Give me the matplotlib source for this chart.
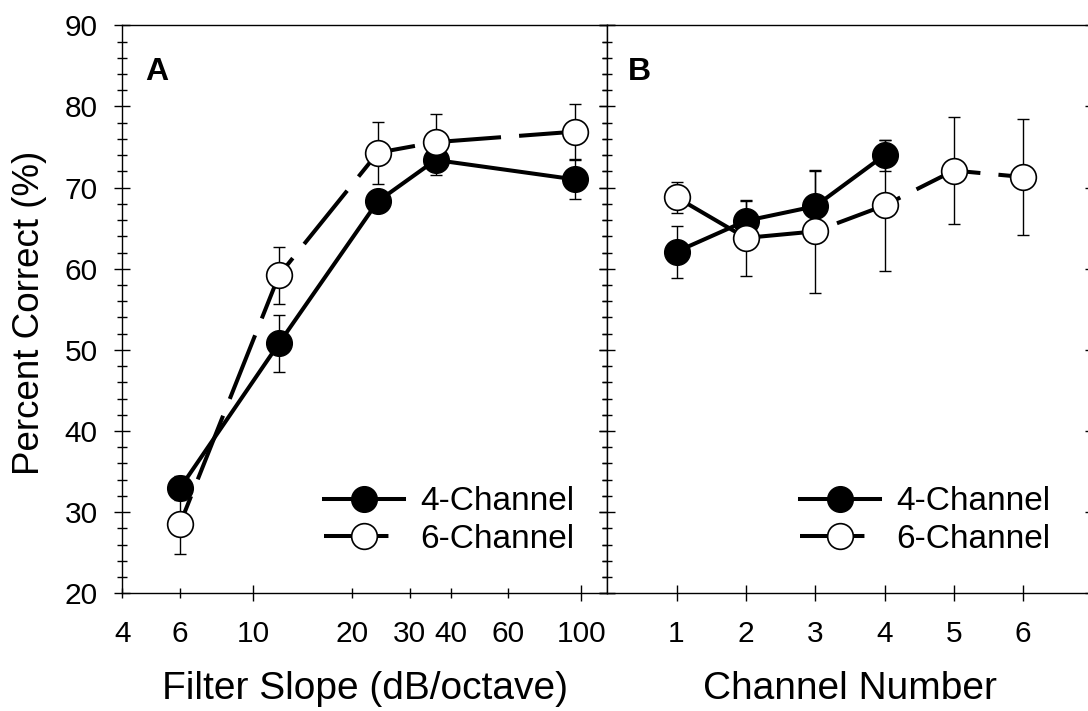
import matplotlib
matplotlib.use("Agg")
import matplotlib.pyplot as plt
from matplotlib.lines import Line2D
from matplotlib.ticker import FixedLocator, FixedFormatter, MultipleLocator

plt.rcParams['font.family'] = ['Liberation Sans', 'DejaVu Sans']

# panel A: filter slope
slope = [6, 12, 24, 36, 96]
a4_mean = [33.0, 50.8, 68.3, 73.4, 71.0]
a4_se = [1.5, 3.5, 1.2, 1.8, 2.4]
a6_mean = [28.6, 59.2, 74.3, 75.6, 76.9]
a6_se = [3.8, 3.5, 3.8, 3.5, 3.4]

# panel B: channel number
chan4 = [1, 2, 3, 4]
b4_mean = [62.1, 65.9, 67.7, 74.0]
b4_se = [3.2, 2.5, 4.4, 1.9]
chan6 = [1, 2, 3, 4, 5, 6]
b6_mean = [68.8, 63.8, 64.6, 67.8, 72.1, 71.3]
b6_se = [1.9, 4.7, 7.6, 8.1, 6.6, 7.2]

labels = ['4-Channel', '6-Channel']

LW = 2.9
MS = 18.5
TICKFS = 21.5
DASH_A = (9.7, (17, 4.5))
DASH_B = (0, (17, 4.5))


def draw_series(ax, x, y, err, filled, dash):
    ax.errorbar(x, y, yerr=err, fmt='none', ecolor='black', elinewidth=1.0,
                capsize=4.5, capthick=1.0, zorder=1)
    ax.plot(x, y, color='black', lw=LW,
            linestyle='-' if filled else dash, zorder=2 if filled else 2.5)
    ax.plot(x, y, linestyle='none', marker='o', ms=MS,
            mfc='black' if filled else 'white', mec='black',
            mew=1.0 if filled else 1.2, zorder=3 if filled else 4)


def style_axes(ax):
    ax.set_ylim(20, 90)
    ax.yaxis.set_major_locator(MultipleLocator(10))
    ax.yaxis.set_minor_locator(MultipleLocator(2))
    ax.tick_params(axis='y', which='both', direction='inout',
                   left=True, right=True, width=1.0, labelsize=TICKFS, pad=12)
    ax.tick_params(axis='y', which='major', length=11.5)
    ax.tick_params(axis='y', which='minor', length=7.5)
    ax.tick_params(axis='x', which='both', direction='inout', top=False,
                   width=1.0, labelsize=TICKFS)
    for sp in ax.spines.values():
        sp.set_linewidth(1.0)


def add_legend(ax, x, y, dash):
    h = [Line2D([], [], color='black', lw=LW, marker='o', ms=MS,
                mfc='black', mec='black', mew=1.0),
         Line2D([], [], color='black', lw=LW, linestyle=(1, dash[1]),
                marker='o', ms=MS, mfc='white', mec='black', mew=1.2)]
    ax.legend(h, labels, loc='center left', bbox_to_anchor=(x, y),
              frameon=False, fontsize=24, handlelength=2.4,
              handletextpad=0.5, labelspacing=0.2, borderpad=0,
              borderaxespad=0, numpoints=1)


fig = plt.figure(figsize=(10.88, 7.11), dpi=100)
axA = fig.add_axes([122.4 / 1088, 117.7 / 711, 484.8 / 1088, 568 / 711])
axB = fig.add_axes([607.2 / 1088, 117.7 / 711, 485.3 / 1088, 568 / 711])

# A
draw_series(axA, slope, a4_mean, a4_se, True, None)
draw_series(axA, slope, a6_mean, a6_se, False, DASH_A)
axA.set_xscale('log')
axA.set_xlim(4, 120)
axA.xaxis.set_major_locator(FixedLocator([10, 100]))
axA.xaxis.set_major_formatter(FixedFormatter(['10', '100']))
axA.xaxis.set_minor_locator(FixedLocator([4, 6, 20, 30, 40, 60]))
axA.xaxis.set_minor_formatter(FixedFormatter(['4', '6', '20', '30', '40', '60']))
style_axes(axA)
axA.tick_params(axis='x', which='major', length=12, pad=13.2)
axA.tick_params(axis='x', which='minor', length=6.5, pad=15.95)
axA.set_xlabel('Filter Slope (dB/octave)', fontsize=28)
axA.xaxis.set_label_coords(0.5, -0.137)
axA.set_ylabel('Percent Correct (%)', fontsize=26.5)
axA.yaxis.set_label_coords(-0.1555, 0.493)
axA.text(0.0466, 0.944, 'A', transform=axA.transAxes, ha='left', va='top',
         fontsize=23, fontweight='bold')
add_legend(axA, 0.4158, 0.128, DASH_A)

# B
draw_series(axB, chan4, b4_mean, b4_se, True, None)
draw_series(axB, chan6, b6_mean, b6_se, False, DASH_B)
axB.set_xlim(0, 7)
axB.set_xticks([1, 2, 3, 4, 5, 6])
style_axes(axB)
axB.tick_params(axis='y', which='both', labelleft=False)
axB.tick_params(axis='x', which='major', length=12, pad=13.2)
axB.set_xlabel('Channel Number', fontsize=28)
axB.xaxis.set_label_coords(0.5, -0.137)
axB.text(0.0429, 0.944, 'B', transform=axB.transAxes, ha='left', va='top',
         fontsize=23, fontweight='bold')
add_legend(axB, 0.3973, 0.128, DASH_B)

fig.savefig('out.png', dpi=100)
